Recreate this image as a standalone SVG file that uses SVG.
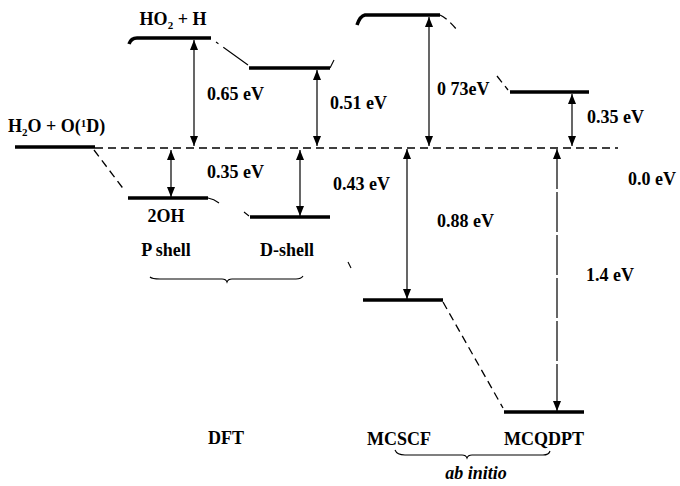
<svg xmlns="http://www.w3.org/2000/svg" width="680" height="486" viewBox="0 0 680 486">
<style>
text{font-family:'Liberation Serif','DejaVu Serif',serif;font-size:18px;font-weight:bold;fill:#000}
.lvl{stroke:#000;stroke-width:3.5;fill:none}
.thin{stroke:#000;stroke-width:1.1;fill:none}
.dash{stroke:#000;stroke-width:1.3;fill:none;stroke-dasharray:8 5}
.arr{stroke:#000;stroke-width:1.2;fill:none;marker-start:url(#ah);marker-end:url(#ah)}
.c{text-anchor:middle}
</style>
<defs>
<marker id="ah" viewBox="0 0 10 8" refX="10" refY="4" markerWidth="10" markerHeight="8" markerUnits="userSpaceOnUse" orient="auto-start-reverse">
<path d="M0,0 L10,4 L0,8 z" fill="#000"/>
</marker>
</defs>
<rect width="680" height="486" fill="#fff"/>

<g id="h2o-o1d">
<line class="lvl" x1="15" y1="147" x2="95" y2="147"/>
<text x="8" y="132" font-size="17">H<tspan font-size="11" dy="4">2</tspan><tspan dy="-4">O + O(</tspan><tspan font-size="11" dy="-5">1</tspan><tspan dy="5">D)</tspan></text>
</g>
<g id="ho2-h">
<path class="lvl" d="M129,44 Q131,38 137,38 L211,38"/>
<text class="c" x="173" y="25" font-size="17">HO<tspan font-size="11" dy="4">2</tspan><tspan dy="-4"> + H</tspan></text>
</g>
<g id="p-2oh">
<line class="lvl" x1="128" y1="198" x2="208" y2="198"/>
<text class="c" x="166" y="222" font-size="17">2OH</text>
</g>
<g id="d-upper">
<path class="lvl" d="M249,68 L330,68"/>
<path class="thin" d="M330,68 L334,60"/>
</g>
<g id="d-lower">
<line class="lvl" x1="250" y1="217" x2="330" y2="217"/>
</g>
<g id="mcscf-upper">
<path class="lvl" d="M357,25 Q360,16 365,15 L440,15"/>
</g>
<g id="mcscf-lower">
<line class="lvl" x1="363" y1="300" x2="443" y2="300"/>
</g>
<g id="mcqdpt-upper">
<line class="lvl" x1="510" y1="92" x2="589" y2="92"/>
</g>
<g id="mcqdpt-lower">
<line class="lvl" x1="504" y1="412" x2="584" y2="412"/>
</g>

<g id="connectors">
<line class="dash" x1="95" y1="148" x2="618" y2="148"/>
<path class="thin" d="M216,42 L248,65" stroke-dasharray="3 6 40"/>
<path class="dash" d="M94,150 L125,191" stroke-dasharray="3 6"/>
<path class="thin" d="M208,198 Q214,199 219,203 M244,212 L249,216"/>
<path class="thin" d="M348,262 L351,268"/>
<path class="dash" d="M440,15 Q447,18 457,30" stroke-dasharray="6 3"/>
<path class="dash" d="M497,76 L508,90" stroke-dasharray="2 3"/>
<path class="dash" d="M443,302 L503,408"/>
<path class="thin" d="M150,277 Q152,279 160,279 L222,279 Q226,279 227,282 Q228,279 232,279 L296,279 Q301,279 303,276"/>
<path class="thin" d="M395,450 Q397,455 405,455 L462,455 Q466,455 467,458 Q468,455 472,455 L543,455 Q549,455 550,451"/>
<line class="arr" x1="194" y1="40" x2="194" y2="146"/>
<line class="arr" x1="171" y1="150" x2="171" y2="197"/>
<line class="arr" x1="317" y1="70" x2="317" y2="146"/>
<line class="arr" x1="300" y1="150" x2="300" y2="216"/>
<line class="arr" x1="429" y1="17" x2="429" y2="146"/>
<line class="arr" x1="407" y1="149" x2="407" y2="299"/>
<line class="arr" x1="572" y1="94" x2="572" y2="146"/>
<line class="arr" x1="557" y1="149" x2="557" y2="411" stroke-dasharray="40 3"/>
</g>

<g id="labels">
<text x="207" y="100">0.65 eV</text>
<text x="330" y="109">0.51 eV</text>
<text x="207" y="178">0.35 eV</text>
<text x="333" y="190">0.43 eV</text>
<text x="437" y="95">0 73eV</text>
<text x="587" y="123">0.35 eV</text>
<text x="628" y="185">0.0 eV</text>
<text x="437" y="227">0.88 eV</text>
<text x="586" y="281">1.4 eV</text>
<text class="c" x="166" y="256">P shell</text>
<text class="c" x="287" y="256">D-shell</text>
<text class="c" x="226" y="444">DFT</text>
<text class="c" x="399" y="445">MCSCF</text>
<text class="c" x="544" y="445">MCQDPT</text>
<text class="c" x="476" y="479" font-size="14" font-style="italic">ab initio</text>
</g>
</svg>
